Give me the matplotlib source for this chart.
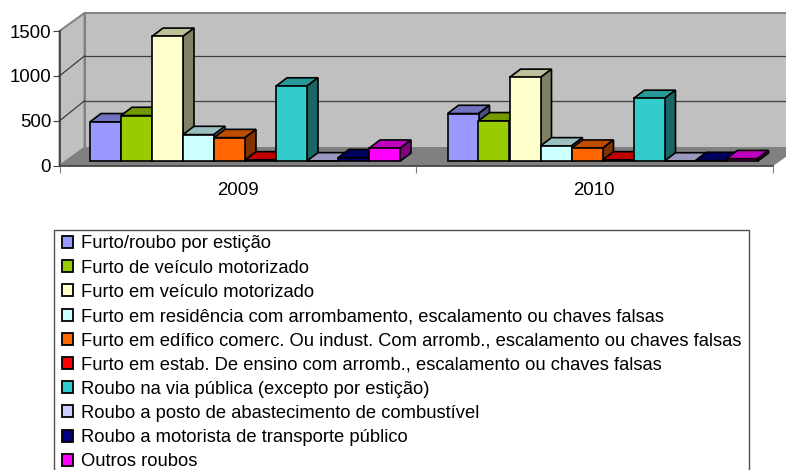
import matplotlib
matplotlib.use('Agg')
import matplotlib.pyplot as plt
from matplotlib.patches import Polygon, Patch, Rectangle
from matplotlib.colors import to_rgb

plt.rcParams['font.family'] = ['Liberation Sans', 'DejaVu Sans']

years = ['2009', '2010']
crimes = [
    'Furto/roubo por estição',
    'Furto de veículo motorizado',
    'Furto em veículo motorizado',
    'Furto em residência com arrombamento, escalamento ou chaves falsas',
    'Furto em edífico comerc. Ou indust. Com arromb., escalamento ou chaves falsas',
    'Furto em estab. De ensino com arromb., escalamento ou chaves falsas',
    'Roubo na via pública (excepto por estição)',
    'Roubo a posto de abastecimento de combustível',
    'Roubo a motorista de transporte público',
    'Outros roubos',
]
values_2009 = [439, 509, 1390, 297, 263, 15, 837, 4, 40, 145]
values_2010 = [531, 450, 933, 171, 145, 15, 699, 3, 8, 29]
colors = ['#9999FF', '#99CC00', '#FFFFCC', '#CCFFFF', '#FF6600',
          '#FF0000', '#33CCCC', '#CCCCFF', '#000080', '#FF00FF']

W, H = 786, 470
fig = plt.figure(figsize=(W / 100, H / 100), dpi=100)
# axes box = front edge of the floor, 0 to 1500
left, right, bottom_px, top_px = 59.5, 772.5, 165.8, 31.0
ax = fig.add_axes([left / W, 1 - bottom_px / H, (right - left) / W, (bottom_px - top_px) / H])
ax.set_xlim(0, 2)
ax.set_ylim(0, 1500)

px_x = 2 / (right - left)
px_y = 1500 / (bottom_px - top_px)


def off(x, y, dx, dy):
    # pixel offset -> data units
    return (x + dx * px_x, y + dy * px_y)


def poly(pts, fc, ec, lw, z):
    ax.add_patch(Polygon(pts, closed=True, facecolor=fc, edgecolor=ec, linewidth=lw,
                         clip_on=False, zorder=z, joinstyle='miter'))


# walls and floor
depth_x, depth_y = 25, 18
poly([off(0, 0, depth_x, depth_y), off(2, 0, depth_x, depth_y), off(2, 1500, depth_x, depth_y),
      off(0, 1500, depth_x, depth_y)], '#C0C0C0', '#808080', 1.4, 1)
poly([(0, 0), off(0, 0, depth_x, depth_y), off(0, 1500, depth_x, depth_y), (0, 1500)],
     '#C0C0C0', '#808080', 1.4, 1)
poly([(0, 0), (2, 0), off(2, 0, depth_x, depth_y), off(0, 0, depth_x, depth_y)],
     '#808080', '#808080', 0.8, 1)

grid_dy = 20
for val in [500, 1000]:
    bx, by = off(0, val, depth_x, grid_dy)
    ax.plot([bx, off(2, val, depth_x, grid_dy)[0]], [by, by], color='#404040', lw=0.9, zorder=2, clip_on=False)
    ax.plot([0, bx], [val, by], color='#303030', lw=0.8, zorder=2, clip_on=False)

# bars, left to right so later ones cover earlier sides
bar_w = 31.0 * px_x
gap_y = 4.5
d_x, d_y = 11.0, 8.3
group_left = [(90.0 - left) * px_x, (447.5 - left) * px_x]
z = 3
for g, vals in enumerate([values_2009, values_2010]):
    for i, v in enumerate(vals):
        x0 = group_left[g] + i * bar_w
        base = gap_y * px_y
        x1 = x0 + bar_w
        rgb = to_rgb(colors[i])
        top_c = tuple(c * 0.75 for c in rgb)
        side_c = tuple(c * 0.5 for c in rgb)
        y1 = base + v
        poly([(x0, y1), (x1, y1), off(x1, y1, d_x, d_y), off(x0, y1, d_x, d_y)], top_c, 'black', 1.2, z)
        poly([(x1, base), off(x1, base, d_x, d_y), off(x1, y1, d_x, d_y), (x1, y1)], side_c, 'black', 1.2, z)
        ax.bar(x0, v, width=bar_w, bottom=base, align='edge', color=colors[i],
               edgecolor='black', linewidth=1.2, zorder=z + 0.5, clip_on=False)
        z += 1

for s in ['top', 'right']:
    ax.spines[s].set_visible(False)
for s in ['left', 'bottom']:
    ax.spines[s].set_color('#404040')
    ax.spines[s].set_linewidth(1.2)
    ax.spines[s].set_zorder(1.5)

ax.set_yticks([0, 500, 1000, 1500])
ax.tick_params(axis='y', length=5, width=0.8, color='#404040', labelsize=13.4, pad=1)
ax.set_xticks([0, 1, 2])
ax.set_xticklabels([])
ax.set_xticks([0.5, 1.5], labels=years, minor=True)
ax.tick_params(axis='x', which='major', length=5, width=0.8, color='#808080')
ax.tick_params(axis='x', which='minor', length=0, labelsize=13.4, pad=12)

# legend box runs off the bottom of the picture
fig.add_artist(Rectangle((53.5 / W, 1 - 480 / H), (749 - 53.5) / W, 250 / H, transform=fig.transFigure,
                         facecolor='white', edgecolor='#505050', linewidth=1.0))
handles = [Patch(facecolor=c, edgecolor='black', linewidth=1.3) for c in colors]
leg = fig.legend(handles, crimes, loc='upper left', bbox_to_anchor=(62 / W, 1 - 235.5 / H),
                 bbox_transform=fig.transFigure, ncol=1, fontsize=13.28, frameon=False,
                 borderaxespad=0, handlelength=0.62, handleheight=0.62,
                 handletextpad=0.41, labelspacing=0.39, borderpad=0)
leg.set_zorder(5)

fig.savefig('out.png', dpi=100)
